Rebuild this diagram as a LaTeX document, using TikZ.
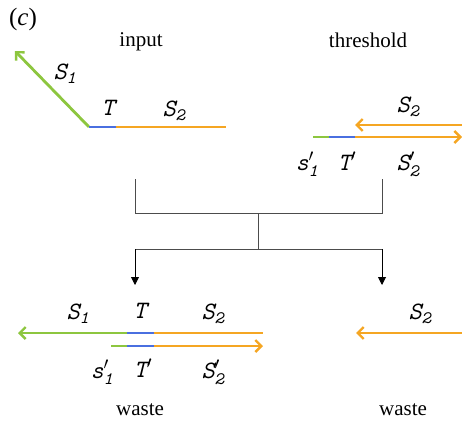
\documentclass[tikz,border=0pt]{standalone}
\usepackage{amsmath}
\usepackage{fontspec}
\setmainfont{Liberation Serif}
\usetikzlibrary{arrows.meta}
\definecolor{dgreen}{HTML}{8DC63F}
\definecolor{dblue}{HTML}{4A6FE0}
\definecolor{dorange}{HTML}{F5A623}
\newcommand\lf{\ttfamily\itshape}
\newcommand\dlab[2]{$\text{\lf #1}_{\text{\ttfamily #2}}$}
\newcommand\dlabp[2]{$\text{\lf #1}'_{\text{\ttfamily #2}}$}
\tikzset{
  strand/.style={line width=2.8pt},
  gr/.style={strand, dgreen},
  bl/.style={strand, dblue},
  orr/.style={strand, dorange},
  tip/.style={-{Straight Barb[length=6pt,width=12pt,line width=2.4pt]}},
  lbl/.style={font=\lf\fontsize{25}{25}\selectfont, inner sep=0pt},
  ttl/.style={font=\fontsize{21}{21}\selectfont, inner sep=0pt},
  conn/.style={draw=black!70, line width=0.9pt},
  down/.style={conn, -{Triangle[length=8pt,width=8pt]}, draw=black}
}
\begin{document}
\begin{tikzpicture}[x=1pt,y=-1pt]
\useasboundingbox (0,0) rectangle (462,423);
\node[ttl, font=\fontsize{25}{25}\selectfont] (c) at (23,19) {(\textit{c})};
\node[ttl] (inp) at (141,42) {input};
\node[ttl] (thr) at (368,40) {threshold};
% input strand
\coordinate (i0) at (15,51);
\coordinate (i1) at (89,127);
\coordinate (i2) at (116,127);
\coordinate (i3) at (226,127);
\draw[gr,tip] (i1) -- (i0);
\draw[bl] (i1) -- (i2);
\draw[orr] (i2) -- (i3);
\node[lbl] (ls1) at (65,74) {\dlab{S}{1}};
\node[lbl] (lt) at (108,108) {T};
\node[lbl] (ls2) at (174,111) {\dlab{S}{2}};
% threshold
\coordinate (t0) at (462,125);
\coordinate (t1) at (355,125);
\coordinate (b0) at (313,137);
\coordinate (b1) at (329,137);
\coordinate (b2) at (355,137);
\coordinate (b3) at (462,137);
\draw[orr,tip] (t0) -- (t1);
\draw[gr] (b0) -- (b1);
\draw[bl] (b1) -- (b2);
\draw[orr,tip] (b2) -- (b3);
\node[lbl] (ts2) at (408,107) {\dlab{S}{2}};
\node[lbl] (ts1p) at (307,164) {\dlabp{s}{1}};
\node[lbl] (ttp) at (347,161) {$\text{\lf T}'$};
\node[lbl] (ts2p) at (408,164) {\dlabp{S}{2}};
% connectors
\coordinate (v1) at (135,179);
\coordinate (v2) at (382,179);
\coordinate (h1) at (135,213);
\coordinate (h2) at (382,213);
\coordinate (m1) at (258,213);
\coordinate (m2) at (258,249);
\coordinate (g1) at (135,249);
\coordinate (g2) at (382,249);
\coordinate (a1) at (135,285);
\coordinate (a2) at (382,285);
\draw[conn] (v1) -- (h1) -- (h2) -- (v2);
\draw[conn] (m1) -- (m2);
\draw[conn] (g1) -- (g2);
\draw[down] (g1) -- (a1);
\draw[down] (g2) -- (a2);
% waste left
\coordinate (w0) at (18,333);
\coordinate (w1) at (127,333);
\coordinate (w2) at (154,333);
\coordinate (w3) at (263,333);
\coordinate (x0) at (111,346);
\coordinate (x1) at (127,346);
\coordinate (x2) at (154,346);
\coordinate (x3) at (263,346);
\draw[gr,tip] (w1) -- (w0);
\draw[bl] (w1) -- (w2);
\draw[orr] (w2) -- (w3);
\draw[gr] (x0) -- (x1);
\draw[bl] (x1) -- (x2);
\draw[orr,tip] (x2) -- (x3);
\node[lbl] (ws1) at (78,314) {\dlab{S}{1}};
\node[lbl] (wt) at (140,311) {T};
\node[lbl] (ws2) at (213,314) {\dlab{S}{2}};
\node[lbl] (ws1p) at (102,372) {\dlabp{s}{1}};
\node[lbl] (wtp) at (143,368) {$\text{\lf T}'$};
\node[lbl] (ws2p) at (213,372) {\dlabp{S}{2}};
\node[ttl] (wl) at (140,410) {waste};
% waste right
\coordinate (r0) at (462,333);
\coordinate (r1) at (356,333);
\draw[orr,tip] (r0) -- (r1);
\node[lbl] (rs2) at (420,314) {\dlab{S}{2}};
\node[ttl] (wr) at (403,410) {waste};
\end{tikzpicture}
\end{document}
